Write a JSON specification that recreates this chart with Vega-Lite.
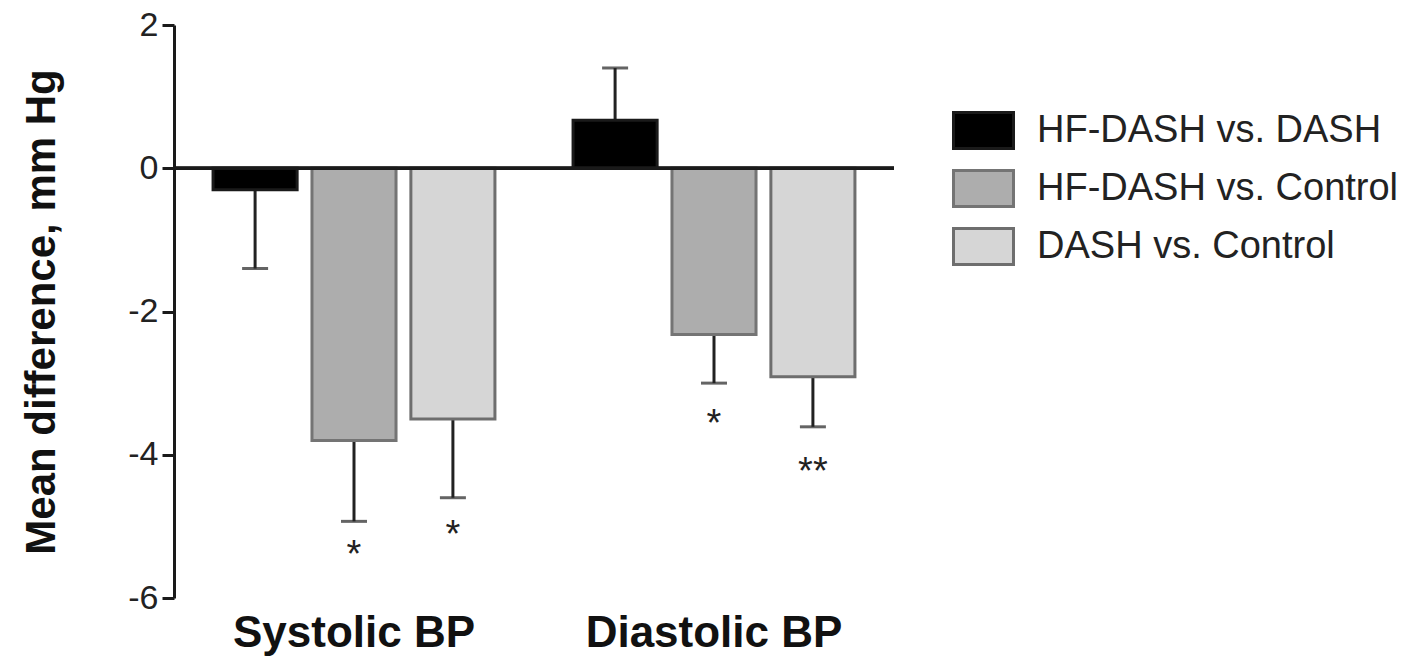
{
  "$schema": "https://vega.github.io/schema/vega-lite/v6.json",
  "width": 720,
  "height": 573,
  "autosize": {"type": "none"},
  "padding": {"left": 174, "top": 25, "right": 515, "bottom": 60},
  "background": "white",
  "config": {
    "view": {"stroke": null},
    "font": "Liberation Sans",
    "axisY": {
      "domainColor": "#1a1a1a",
      "domainWidth": 3,
      "tickColor": "#1a1a1a",
      "tickWidth": 3,
      "tickSize": 12,
      "labelFontSize": 34,
      "labelColor": "#222",
      "labelPadding": 4,
      "grid": false,
      "titleFontSize": 42,
      "titleFontWeight": "bold",
      "titleColor": "#111",
      "titlePadding": 64
    },
    "axisX": {
      "domain": false,
      "ticks": false,
      "labelAngle": 0,
      "labelFontSize": 44,
      "labelFontWeight": "bold",
      "labelColor": "#111",
      "labelPadding": 13,
      "labelLimit": 0
    },
    "legend": {
      "orient": "none",
      "legendX": 778,
      "legendY": 74,
      "labelFontSize": 38,
      "labelColor": "#222",
      "labelLimit": 0,
      "symbolType": "M-1,-0.6H1V0.6H-1Z",
      "symbolSize": 3600,
      "symbolStrokeWidth": 3,
      "symbolOpacity": 1,
      "rowPadding": 2,
      "labelOffset": 22
    }
  },
  "data": {
    "values": [
      {"bp": "Systolic BP", "cmp": "HF-DASH vs. DASH", "mean": -0.3, "lo": -1.4, "star": null, "sig": null},
      {"bp": "Systolic BP", "cmp": "HF-DASH vs. Control", "mean": -3.8, "lo": -4.93, "star": -5.3, "sig": "*"},
      {"bp": "Systolic BP", "cmp": "DASH vs. Control", "mean": -3.5, "lo": -4.6, "star": -5.02, "sig": "*"},
      {"bp": "Diastolic BP", "cmp": "HF-DASH vs. DASH", "mean": 0.67, "lo": 1.4, "star": null, "sig": null},
      {"bp": "Diastolic BP", "cmp": "HF-DASH vs. Control", "mean": -2.32, "lo": -3.0, "star": -3.47, "sig": "*"},
      {"bp": "Diastolic BP", "cmp": "DASH vs. Control", "mean": -2.91, "lo": -3.61, "star": -4.14, "sig": "**"}
    ]
  },
  "layer": [
    {
      "encoding": {
        "x": {"field": "bp", "type": "nominal", "sort": ["Systolic BP", "Diastolic BP"], "title": null, "scale": {"paddingInner": 0.217, "paddingOuter": 0.1085}},
        "xOffset": {"field": "cmp", "type": "nominal", "sort": ["HF-DASH vs. DASH", "HF-DASH vs. Control", "DASH vs. Control"], "scale": {"paddingInner": 0.15, "paddingOuter": 0}}
      },
      "layer": [
        {
          "mark": {"type": "rule", "strokeWidth": 3, "color": "#222"},
          "encoding": {
            "y": {"field": "mean", "type": "quantitative", "title": "Mean difference, mm Hg", "scale": {"domain": [-6, 2], "nice": false, "zero": false}},
            "y2": {"field": "lo"}
          }
        },
        {
          "mark": {"type": "tick", "thickness": 3, "size": 26, "color": "#222"},
          "encoding": {
            "y": {"field": "lo", "type": "quantitative", "title": "Mean difference, mm Hg", "scale": {"domain": [-6, 2], "nice": false, "zero": false}}
          }
        },
        {
          "mark": {"type": "bar", "strokeWidth": 3},
          "encoding": {
            "y": {"field": "mean", "type": "quantitative", "title": "Mean difference, mm Hg", "scale": {"domain": [-6, 2], "nice": false, "zero": false}, "axis": {"values": [2, 0, -2, -4, -6], "labelExpr": "'' + datum.value"}},
            "fill": {"field": "cmp", "type": "nominal", "title": null, "sort": ["HF-DASH vs. DASH", "HF-DASH vs. Control", "DASH vs. Control"], "scale": {"domain": ["HF-DASH vs. DASH", "HF-DASH vs. Control", "DASH vs. Control"], "range": ["#000000", "#adadad", "#d6d6d6"]}},
            "stroke": {"field": "cmp", "type": "nominal", "title": null, "sort": ["HF-DASH vs. DASH", "HF-DASH vs. Control", "DASH vs. Control"], "scale": {"domain": ["HF-DASH vs. DASH", "HF-DASH vs. Control", "DASH vs. Control"], "range": ["#1a1a1a", "#747474", "#6e6e6e"]}}
          }
        },
        {
          "transform": [{"filter": "datum.sig != null"}],
          "mark": {"type": "text", "fontSize": 38, "color": "#222", "baseline": "middle", "dy": 8},
          "encoding": {
            "y": {"field": "star", "type": "quantitative", "title": "Mean difference, mm Hg", "scale": {"domain": [-6, 2], "nice": false, "zero": false}},
            "text": {"field": "sig"}
          }
        }
      ]
    },
    {
      "mark": {"type": "rule", "strokeWidth": 3, "color": "#1a1a1a"},
      "encoding": {"y": {"datum": 0}}
    }
  ]
}
